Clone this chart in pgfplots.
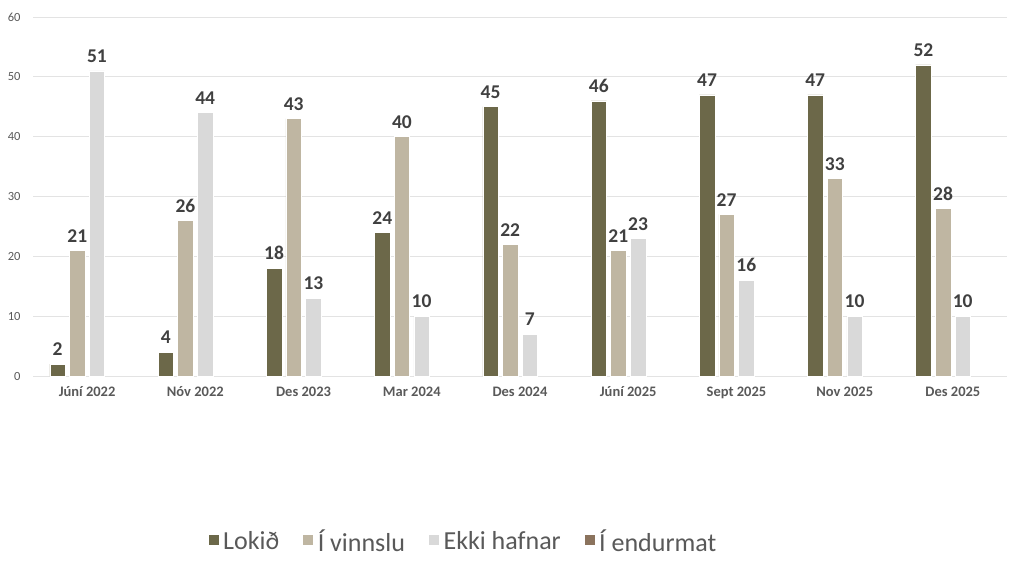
\documentclass[border=0pt]{standalone}
\usepackage{pgfplots}
\pgfplotsset{compat=1.18}
\usepackage{fontspec}
\setmainfont{Carlito}
\definecolor{cA}{HTML}{6C6849}
\definecolor{cB}{HTML}{BFB6A2}
\definecolor{cC}{HTML}{D9D9D9}
\definecolor{cD}{HTML}{8B735D}
\definecolor{gridc}{HTML}{E3E3E3}
\definecolor{tickc}{HTML}{595959}
\definecolor{labc}{HTML}{404040}
\begin{document}
\begin{tikzpicture}
\useasboundingbox (0,0) rectangle (1024pt,562pt);
\begin{axis}[
  at={(33pt,186pt)}, anchor=south west,
  scale only axis, width=974pt, height=359pt,
  xmin=-0.5, xmax=8.5, ymin=0, ymax=60,
  ytick={0,10,...,60},
  xtick={0,...,8},
  xticklabels={Júní 2022, Nóv 2022, Des 2023, Mar 2024, Des 2024, Júní 2025, Sept 2025, Nov 2025, Des 2025},
  ymajorgrids, grid style={color=gridc, line width=0.8pt},
  axis line style={draw=none},
  major tick length=0pt,
  /pgf/number format/assume math mode=true,
  yticklabel style={font=\fontsize{12.5}{12.5}\selectfont, text=tickc, anchor=east, xshift=-9pt},
  xticklabel style={font=\fontsize{14.5}{14.5}\selectfont\bfseries, text=tickc, anchor=north, yshift=-7pt},
  nodes near coords,
  every node near coord/.append style={font=\fontsize{19.5}{19.5}\selectfont\bfseries, text=labc, anchor=south, inner sep=2pt, yshift=6pt},
  legend style={at={(0.4415,-0.46)}, anchor=center, draw=none, legend columns=4,
    font=\fontsize{26}{26}\selectfont, text=tickc,
    /tikz/every odd column/.append style={column sep=2pt},
    /tikz/every even column/.append style={column sep=21pt}},
  legend image code/.code={\fill[#1] (0pt,-4pt) rectangle (11pt,7pt);},
]
\addplot[ybar, bar width=0.143, bar shift=0pt, fill=cA, draw=white, line width=0.5pt]
  coordinates {(-0.272,2) (0.728,4) (1.728,18) (2.728,24) (3.728,45) (4.728,46) (5.728,47) (6.728,47) (7.728,52)};
\addlegendentry{Lokið}
\addplot[ybar, bar width=0.143, bar shift=0pt, fill=cB, draw=white, line width=0.5pt]
  coordinates {(-0.091,21) (0.909,26) (1.909,43) (2.909,40) (3.909,22) (4.909,21) (5.909,27) (6.909,33) (7.909,28)};
\addlegendentry{Í vinnslu}
\addplot[ybar, bar width=0.143, bar shift=0pt, fill=cC, draw=white, line width=0.5pt]
  coordinates {(0.091,51) (1.091,44) (2.091,13) (3.091,10) (4.091,7) (5.091,23) (6.091,16) (7.091,10) (8.091,10)};
\addlegendentry{Ekki hafnar}
\addlegendimage{fill=cD, draw=white}
\addlegendentry{Í endurmat}
\end{axis}
\end{tikzpicture}
\end{document}
